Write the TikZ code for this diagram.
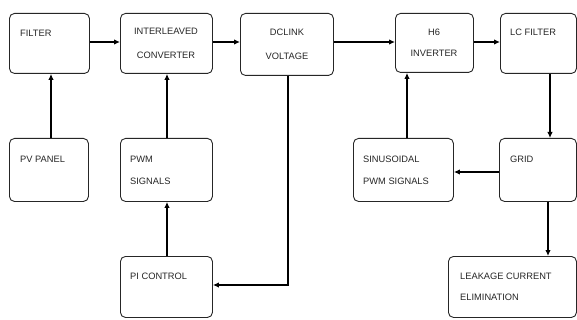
\documentclass[tikz,border=0pt]{standalone}
\usepackage{fontspec}
\setmainfont{Liberation Sans}
\usetikzlibrary{arrows.meta}
\begin{document}
\begin{tikzpicture}[x=1pt,y=-1pt,
  box/.style={draw=black!85,line width=0.9pt,rounded corners=5pt,inner sep=0pt,anchor=north west},
  txt/.style={font=\fontsize{9.3}{11}\selectfont,inner sep=0pt,text=black!85},
  lt/.style={txt,anchor=west},
  ct/.style={txt,anchor=center},
  conn/.style={line width=2pt,-{Latex[length=6pt,width=5.5pt]}}]
\fill[white] (0,0) rectangle (577,320);
\useasboundingbox (0,0) rectangle (577,320);
% boxes
\node[box,minimum width=80pt,minimum height=60pt] (filter) at (9,13) {};
\node[box,minimum width=92pt,minimum height=60pt] (conv) at (120,13) {};
\node[box,minimum width=93pt,minimum height=62pt] (dc) at (240,13) {};
\node[box,minimum width=78pt,minimum height=59pt] (h6) at (395,13) {};
\node[box,minimum width=76pt,minimum height=60pt] (lc) at (500,13) {};
\node[box,minimum width=79pt,minimum height=63pt] (pv) at (9,138) {};
\node[box,minimum width=92pt,minimum height=63pt] (pwm) at (120,138) {};
\node[box,minimum width=92pt,minimum height=61pt] (pi) at (120,256) {};
\node[box,minimum width=100pt,minimum height=63pt] (sin) at (353,138) {};
\node[box,minimum width=77pt,minimum height=63pt] (grid) at (499,138) {};
\node[box,minimum width=128pt,minimum height=61pt] (leak) at (448,256) {};
% texts
\node[lt] (tfilter) at (20,33) {FILTER};
\node[ct] (tconv1) at (166,31) {INTERLEAVED};
\node[ct] (tconv2) at (166,55) {CONVERTER};
\node[ct] (tdc1) at (287,32) {DCLINK};
\node[ct] (tdc2) at (287,56) {VOLTAGE};
\node[ct] (th61) at (434,32) {H6};
\node[ct] (th62) at (434,53) {INVERTER};
\node[lt] (tlc) at (510,32) {LC FILTER};
\node[lt] (tpv) at (20,159) {PV PANEL};
\node[lt] (tpwm1) at (130,159) {PWM};
\node[lt] (tpwm2) at (130,181) {SIGNALS};
\node[lt] (tpi) at (130,276) {PI CONTROL};
\node[lt] (tsin1) at (363,159) {SINUSOIDAL};
\node[lt] (tsin2) at (363,181) {PWM SIGNALS};
\node[lt] (tgrid) at (510,159) {GRID};
\node[lt] (tleak1) at (460,276) {LEAKAGE CURRENT};
\node[lt] (tleak2) at (460,297) {ELIMINATION};
% connectors
\draw[conn] (filter.east |- 0,42) -- (conv.west |- 0,42);
\draw[conn] (conv.east |- 0,42) -- (dc.west |- 0,42);
\draw[conn] (dc.east |- 0,42) -- (h6.west |- 0,42);
\draw[conn] (h6.east |- 0,42) -- (lc.west |- 0,42);
\draw[conn] (pv.north -| 51,0) -- (filter.south -| 51,0);
\draw[conn] (pwm.north -| 167,0) -- (conv.south -| 167,0);
\draw[conn] (pi.north -| 167,0) -- (pwm.south -| 167,0);
\draw[conn] (dc.south -| 288,0) |- (pi.east |- 0,285);
\draw[conn] (sin.north -| 407,0) -- (h6.south -| 407,0);
\draw[conn] (lc.south -| 550,0) -- (grid.north -| 550,0);
\draw[conn] (grid.west |- 0,172) -- (sin.east |- 0,172);
\draw[conn] (grid.south -| 548,0) -- (leak.north -| 548,0);
\end{tikzpicture}
\end{document}
